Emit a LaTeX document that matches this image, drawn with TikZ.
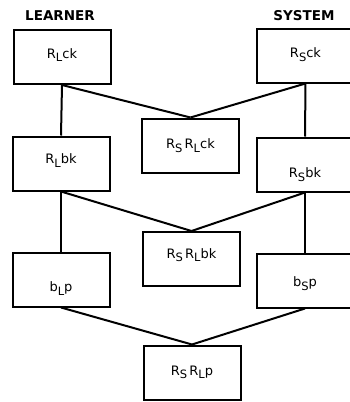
\documentclass[tikz,border=0pt]{standalone}
\usepackage{fontspec}
\setmainfont{DejaVu Sans}
\usepackage{tikz}
\usetikzlibrary{positioning}

\newcommand{\lowsub}[1]{\raisebox{-0.5ex}{\fontsize{11.5}{12}\selectfont #1}}

\tikzset{
  box/.style={draw, line width=2pt, minimum width=97pt, minimum height=54pt, inner sep=0pt},
  head/.style={font=\fontsize{13.5}{14}\selectfont\bfseries},
  txt/.style={font=\fontsize{13}{14}\selectfont},
  link/.style={line width=2pt}
}

\begin{document}
\begin{tikzpicture}[x=1pt,y=-1pt]
\useasboundingbox (0,0) rectangle (350,402);
% column heads
\node[head] (learner) at (60,16) {LEARNER};
\node[head] (system) at (304,16) {SYSTEM};
% boxes
\node[box,label={[txt,yshift=2pt]center:R\lowsub{L}ck}] (rlck) at (62,57) {};
\node[box,label={[txt,yshift=1pt]center:R\lowsub{S}ck}] (rsck) at (305.5,55.5) {};
\node[box,label={[txt]center:R\lowsub{S}\,R\lowsub{L}ck}] (rsrlck) at (190.5,145.5) {};
\node[box,label={[txt,yshift=3pt]center:R\lowsub{L}bk}] (rlbk) at (61,163.5) {};
\node[box,label={[txt,yshift=-10pt]center:R\lowsub{S}bk}] (rsbk) at (305,164.5) {};
\node[box,label={[txt,yshift=4pt]center:R\lowsub{S}\,R\lowsub{L}bk}] (rsrlbk) at (191.5,259) {};
\node[box,label={[txt,yshift=-9pt]center:b\lowsub{L}p}] (blp) at (61,279.5) {};
\node[box,label={[txt,yshift=-3pt]center:b\lowsub{S}p}] (bsp) at (305,280.5) {};
\node[box,label={[txt]center:R\lowsub{S}\,R\lowsub{L}p}] (rsrlp) at (192,372.5) {};
% links
\draw[link] (rlck.south) -- (rlbk.north) ;
\draw[link] (rlck.south) -- (rsrlck.north) ;
\draw[link] (rsck.south) -- (rsrlck.north) ;
\draw[link] (rsck.south) -- (rsbk.north) ;
\draw[link] (rlbk.south) -- (rsrlbk.north) ;
\draw[link] (rsbk.south) -- (rsrlbk.north) ;
\draw[link] (rlbk.south) -- (blp.north) ;
\draw[link] (rsbk.south) -- (bsp.north) ;
\draw[link] (blp.south) -- (rsrlp.north) ;
\draw[link] (bsp.south) -- (rsrlp.north) ;
\end{tikzpicture}
\end{document}
